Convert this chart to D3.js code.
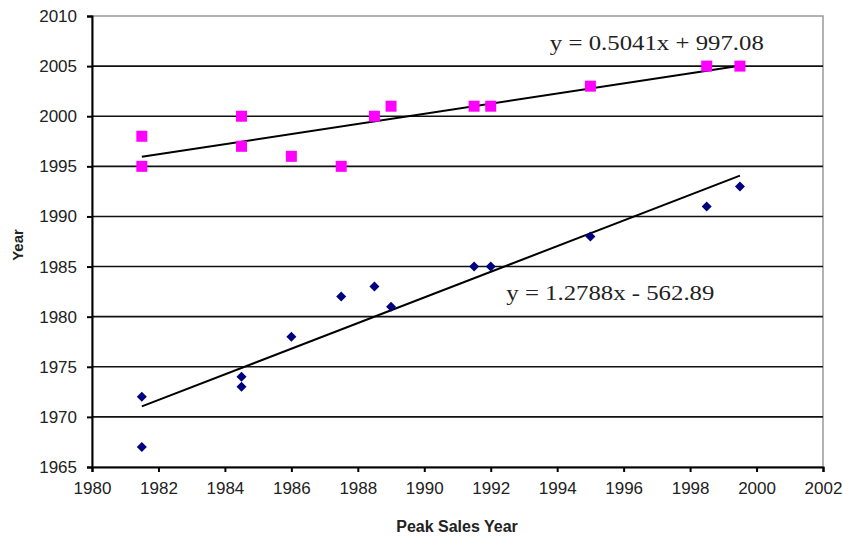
<!DOCTYPE html>
<html>
<head>
<meta charset="utf-8">
<script src="https://cdn.jsdelivr.net/npm/d3@7"></script>
<style>
  body { margin: 0; background: #fff; }
  svg { display: block; }
</style>
</head>
<body>
<div id="chart"></div>
<script>
// peak sales year for each point (same x for both series)
const peakYears = [1981.5, 1981.5, 1984.5, 1984.5, 1986, 1987.5, 1988.5, 1989, 1991.5, 1992, 1995, 1998.5, 1999.5];
const pinkYears = [1998, 1995, 2000, 1997, 1996, 1995, 2000, 2001, 2001, 2001, 2003, 2005, 2005];
const blueYears = [1972, 1967, 1974, 1973, 1978, 1982, 1983, 1981, 1985, 1985, 1988, 1991, 1993];

// trendline coefficients [slope, intercept] and labels
const pinkTrend = [0.5041, 997.08];
const blueTrend = [1.2788, -562.89];
const pinkLabel = "y = 0.5041x + 997.08";
const blueLabel = "y = 1.2788x - 562.89";

const xTicks = [1980, 1982, 1984, 1986, 1988, 1990, 1992, 1994, 1996, 1998, 2000, 2002];
const yTicks = [1965, 1970, 1975, 1980, 1985, 1990, 1995, 2000, 2005, 2010];

const W = 843, H = 538;
const margin = { top: 16, right: 20, bottom: 71, left: 92 };
const width = W - margin.left - margin.right,
      height = H - margin.top - margin.bottom;

const svg = d3.select("#chart").append("svg")
    .attr("width", W)
    .attr("height", H);

const g = svg.append("g")
    .attr("transform", "translate(" + margin.left + "," + margin.top + ")");

const x = d3.scaleLinear().domain([1980, 2002]).range([0, width]);
const y = d3.scaleLinear().domain([1965, 2010]).range([height, 0]);

// plot frame (top/right in grey)
g.append("rect")
    .attr("width", width)
    .attr("height", height)
    .attr("fill", "none")
    .attr("stroke", "#999")
    .attr("stroke-width", 1.5);

// horizontal gridlines
g.selectAll(".grid")
    .data(yTicks.filter(d => d > 1965 && d < 2010))
    .enter().append("line")
    .attr("class", "grid")
    .attr("x1", 0)
    .attr("x2", width)
    .attr("y1", d => y(d))
    .attr("y2", d => y(d))
    .attr("stroke", "#111")
    .attr("stroke-width", 1.6);

const fmt = d3.format("d");

const xAxis = g.append("g")
    .attr("transform", "translate(0," + height + ")")
    .call(d3.axisBottom(x).tickValues(xTicks).tickFormat(fmt).tickSize(5).tickPadding(10));

const yAxis = g.append("g")
    .call(d3.axisLeft(y).tickValues(yTicks).tickFormat(fmt).tickSize(5).tickPadding(10));

[xAxis, yAxis].forEach(a => {
    a.select(".domain").attr("stroke", "#000").attr("stroke-width", 2);
    a.selectAll(".tick line").attr("stroke", "#000").attr("stroke-width", 2);
    a.selectAll("text")
        .attr("fill", "#222")
        .style("font-family", "Liberation Sans, Arial, sans-serif")
        .style("font-size", "17px");
});

// trend lines
function trendLine(coef, xs) {
    const ext = d3.extent(xs);
    return ext.map(v => [v, coef[0] * v + coef[1]]);
}
const line = d3.line().x(d => x(d[0])).y(d => y(d[1]));

g.append("path")
    .datum(trendLine(pinkTrend, peakYears))
    .attr("d", line)
    .attr("fill", "none")
    .attr("stroke", "#000")
    .attr("stroke-width", 2);

g.append("path")
    .datum(trendLine(blueTrend, peakYears))
    .attr("d", line)
    .attr("fill", "none")
    .attr("stroke", "#000")
    .attr("stroke-width", 2);

// pink squares
const sq = 11;
g.selectAll(".pink")
    .data(peakYears.map((v, i) => [v, pinkYears[i]]))
    .enter().append("rect")
    .attr("class", "pink")
    .attr("x", d => x(d[0]) - sq / 2)
    .attr("y", d => y(d[1]) - sq / 2)
    .attr("width", sq)
    .attr("height", sq)
    .attr("fill", "#ff00ff");

// blue diamonds
g.selectAll(".blue")
    .data(peakYears.map((v, i) => [v, blueYears[i]]))
    .enter().append("path")
    .attr("class", "blue")
    .attr("transform", d => "translate(" + x(d[0]) + "," + y(d[1]) + ")")
    .attr("d", "M0,-5L5,0L0,5L-5,0Z")
    .attr("fill", "#000080");

// equation labels (stretched a bit wider, like the original)
g.append("text")
    .attr("x", x(1997.0))
    .attr("y", y(2006.6))
    .attr("text-anchor", "middle")
    .attr("textLength", 214)
    .attr("lengthAdjust", "spacingAndGlyphs")
    .style("font-family", "Liberation Serif, Times New Roman, serif")
    .style("font-size", "22px")
    .attr("fill", "#222")
    .text(pinkLabel);

g.append("text")
    .attr("x", x(1995.6))
    .attr("y", y(1981.7))
    .attr("text-anchor", "middle")
    .attr("textLength", 208)
    .attr("lengthAdjust", "spacingAndGlyphs")
    .style("font-family", "Liberation Serif, Times New Roman, serif")
    .style("font-size", "22px")
    .attr("fill", "#222")
    .text(blueLabel);

// axis titles
svg.append("text")
    .attr("x", 457)
    .attr("y", 532)
    .attr("text-anchor", "middle")
    .style("font-family", "Liberation Sans, Arial, sans-serif")
    .style("font-weight", "bold")
    .style("font-size", "16px")
    .attr("fill", "#222")
    .text("Peak Sales Year");

svg.append("text")
    .attr("transform", "translate(23,245) rotate(-90)")
    .attr("text-anchor", "middle")
    .style("font-family", "Liberation Sans, Arial, sans-serif")
    .style("font-weight", "bold")
    .style("font-size", "15px")
    .attr("fill", "#222")
    .text("Year");
</script>
</body>
</html>
